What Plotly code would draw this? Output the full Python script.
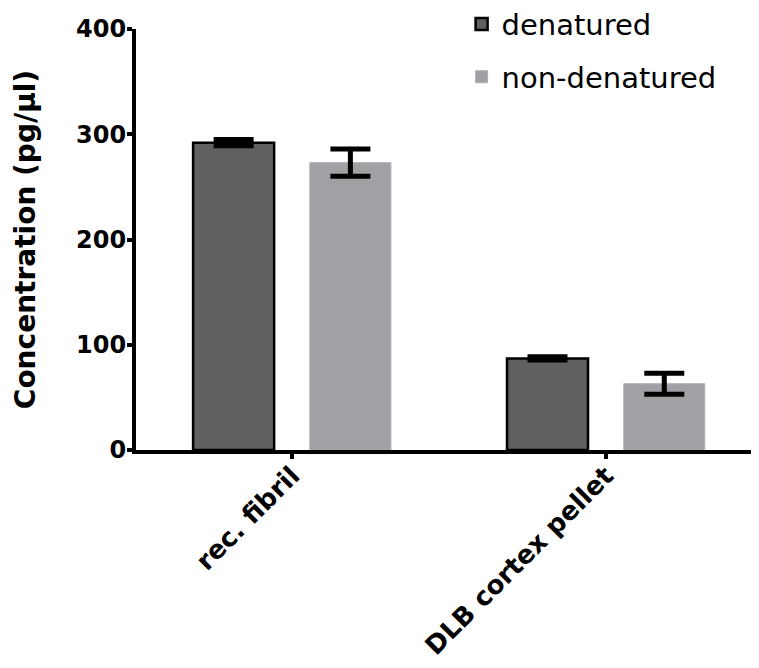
import plotly.graph_objects as go

categories = ["rec. fibril", "DLB cortex pellet"]
denatured = [292, 87]
denatured_err = [3, 1.5]
non_denatured = [273, 63]
non_denatured_err = [13, 10]
y_ticks = [0, 100, 200, 300, 400]

FONT = "DejaVu Sans"

fig = go.Figure()
fig.add_trace(go.Bar(
    name="denatured", x=categories, y=denatured,
    marker=dict(color="#606060", line=dict(color="black", width=2.5)),
    error_y=dict(type="data", array=denatured_err, color="black", thickness=5, width=20),
    legendgroup="a",
))
fig.add_trace(go.Bar(
    name="non-denatured", x=categories, y=non_denatured,
    marker=dict(color="#a1a1a5", line=dict(color="#b0b0b3", width=1)),
    error_y=dict(type="data", array=non_denatured_err, color="black", thickness=5, width=20),
    legendgroup="b",
))

# page body has an 8px default margin, so the figure is sized to fit the window
fig.update_layout(
    width=751, height=660,
    margin=dict(l=128, r=4, t=21, b=218, autoexpand=False),
    barmode="group", bargap=0.256, bargroupgap=0.306,
    plot_bgcolor="white", paper_bgcolor="white",
    font=dict(family=FONT, color="black"),
    showlegend=True,
    legend=dict(x=0.526, y=1.072, xanchor="left", yanchor="top",
                font=dict(family=FONT, size=29, color="black"),
                traceorder="grouped", tracegroupgap=12,
                bgcolor="rgba(0,0,0,0)"),
)
fig.update_xaxes(
    range=[-0.497, 1.475],
    showline=True, linecolor="black", linewidth=4,
    ticks="outside", ticklen=5, tickwidth=4, tickcolor="black",
    tickangle=-45, ticklabelstandoff=-9,
    tickfont=dict(family=FONT, size=26, color="black", weight="bold"),
    showgrid=False, zeroline=False,
)
fig.update_yaxes(
    range=[0, 400], tickvals=y_ticks,
    showline=True, linecolor="black", linewidth=4,
    ticks="outside", ticklen=5, tickwidth=4, tickcolor="black",
    ticklabelstandoff=-4,
    tickfont=dict(family=FONT, size=24, color="black", weight="bold"),
    showgrid=False, zeroline=False,
    title=dict(text="Concentration (pg/μl)", standoff=33,
               font=dict(family=FONT, size=28, color="black", weight="bold")),
)

fig.write_html("out.html")
